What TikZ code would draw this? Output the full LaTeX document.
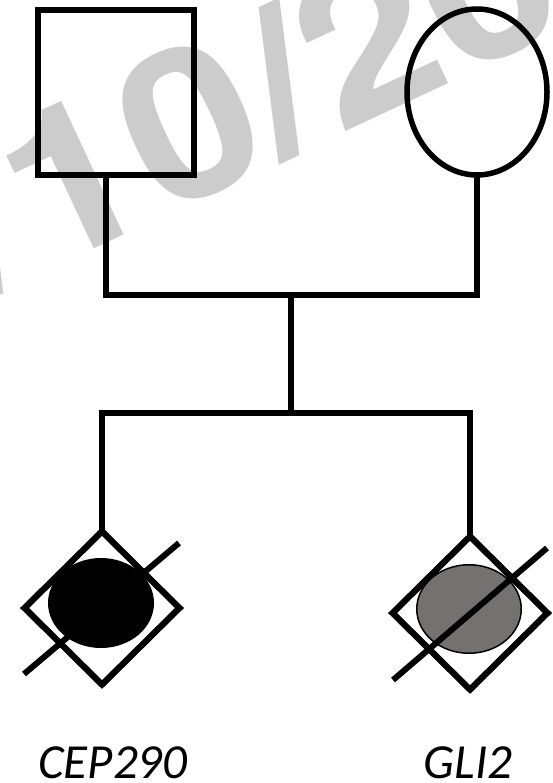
\documentclass[tikz,border=0pt]{standalone}
\usepackage{fontspec}
\setmainfont{Carlito}
\newfontfamily\wmfont[FakeStretch=1.13]{TeX Gyre Heros}
\usetikzlibrary{shapes.geometric}
\definecolor{wmgray}{HTML}{CCCCCC}
\definecolor{affgray}{HTML}{767171}
\begin{document}
\begin{tikzpicture}[x=1pt,y=-1pt,line join=miter,
  link/.style={line width=5.5pt},
  malebox/.style={draw,rectangle,line width=6pt,minimum width=156pt,minimum height=165pt,inner sep=0pt,outer sep=0pt},
  femalebox/.style={draw,ellipse,line width=5.5pt,minimum width=140pt,minimum height=166pt,inner sep=0pt,outer sep=0pt},
  sexbox/.style={draw,diamond,line width=6pt,minimum width=155pt,minimum height=153pt,inner sep=0pt,outer sep=0pt},
  affected/.style={ellipse,minimum width=106pt,minimum height=90pt,inner sep=0pt,outer sep=0pt},
  slash/.style={line width=6pt},
  genelabel/.style={anchor=base,inner sep=0pt,font=\itshape\fontsize{49}{58}\selectfont}]
\useasboundingbox (0,0) rectangle (552,783);
\begin{scope}
  \clip (0,0) rectangle (552,783);
  \node[overlay,rotate=25,anchor=base west,text=wmgray,inner sep=0pt,
        font=\wmfont\bfseries\fontsize{208}{208}\selectfont] (wm) at (-16,300) {/10/2020};
\end{scope}
% parents
\node[malebox] (father) at (116,92.5) {};
\node[femalebox] (mother) at (477,92) {};
\coordinate (fdrop) at (106,175);
\coordinate (mar) at (291,295);
\coordinate (sib) at (291,413);
\draw[link] (fdrop) |- (mar) -| (mother.south);
\draw[link] (mar) -- (sib);
% children
\coordinate (c1) at (102,608);
\coordinate (c2) at (470,613);
\node[sexbox] (d1) at (c1) {};
\node[sexbox] (d2) at (c2) {};
\draw[link] (d1.north) |- (sib) -| (d2.north);
% left child: slash behind filled ellipse
\coordinate (s1a) at (24,674);
\coordinate (s1b) at (179,543);
\draw[slash] (s1a) -- (s1b);
\node[affected,fill=black] (e1) at (101,603) {};
\draw[line width=6pt] (d1.north) -- (d1.west) -- (d1.south) -- (d1.east) -- cycle;
% right child: grey ellipse, slash on top
\node[affected,fill=affgray,draw=black,line width=1.5pt,minimum width=104.5pt,minimum height=88.5pt] (e2) at (469,609) {};
\draw[line width=6pt] (d2.north) -- (d2.west) -- (d2.south) -- (d2.east) -- cycle;
\coordinate (s2a) at (393,680);
\coordinate (s2b) at (547,548);
\draw[slash] (s2a) -- (s2b);
% labels
\node[genelabel] (g1) at (113,778) {CEP290};
\node[genelabel] (g2) at (468,778) {GLI2};
\end{tikzpicture}
\end{document}
